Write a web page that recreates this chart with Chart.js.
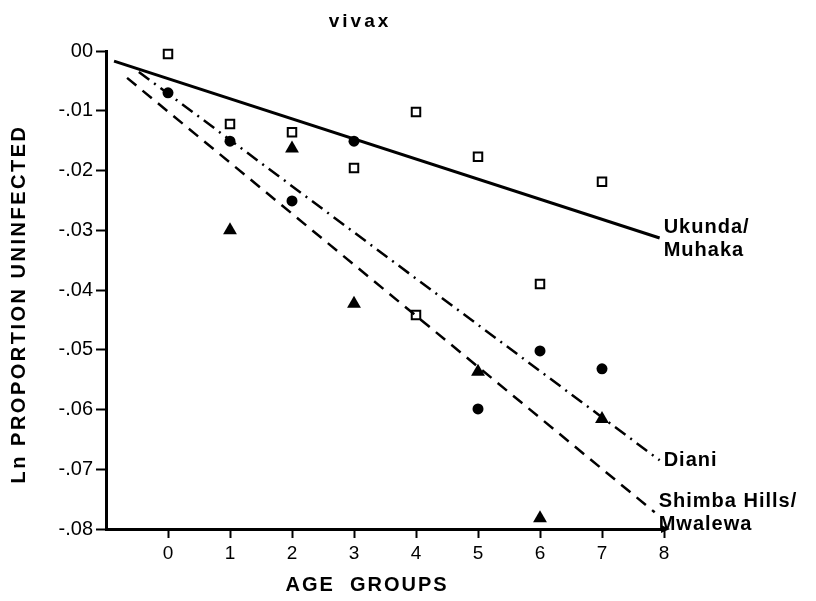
<!DOCTYPE html>
<html>
<head>
<meta charset="utf-8">
<script src="https://cdn.jsdelivr.net/npm/chart.js@4.4.1/dist/chart.umd.min.js"></script>
<style>
    html, body { margin: 0; padding: 0; background: #fff; }
    #wrap { width: 816px; height: 601px; }
</style>
</head>
<body>
<div id="wrap"><canvas id="chart" width="816" height="601"></canvas></div>
<script>
// values
const ukundaAges = [0, 1, 2, 3, 4, 4, 5, 6, 7];
const ukundaVals = [-0.0005, -0.0122, -0.0136, -0.0196, -0.0102, -0.0442, -0.0177, -0.0390, -0.0219];

const dianiAges = [0, 1, 2, 3, 5, 6, 7];
const dianiVals = [-0.0070, -0.0151, -0.0251, -0.0151, -0.0599, -0.0502, -0.0532];

const shimbaAges = [1, 2, 3, 5, 6, 7];
const shimbaVals = [-0.0300, -0.0163, -0.0423, -0.0537, -0.0782, -0.0616];

// fitted lines (start / end)
const ukundaFitX = [-0.87, 7.93];
const ukundaFitY = [-0.0017, -0.0313];
const dianiFitX = [-0.47, 7.93];
const dianiFitY = [-0.0035, -0.0685];
const shimbaFitX = [-0.66, 7.85];
const shimbaFitY = [-0.0045, -0.0772];

const xTicks = [0, 1, 2, 3, 4, 5, 6, 7, 8];
const yTicks = [0, -0.01, -0.02, -0.03, -0.04, -0.05, -0.06, -0.07, -0.08];

const lineLabels = [
    {lines: ['Ukunda/', 'Muhaka'], x: ukundaFitX, y: ukundaFitY},
    {lines: ['Diani'], x: dianiFitX, y: dianiFitY},
    {lines: ['Shimba Hills/', 'Mwalewa'], x: shimbaFitX, y: shimbaFitY}
];

function pts(xs, ys) {
    return xs.map((x, i) => ({x: x, y: ys[i]}));
}

const FONT = "'Liberation Sans', Arial, sans-serif";

// texts drawn by hand so they sit where the figure has them
const textPlugin = {
    id: 'texts',
    afterDraw(chart) {
        const ctx = chart.ctx;
        const xs = chart.scales.x, ys = chart.scales.y;
        const area = chart.chartArea;
        ctx.save();
        ctx.fillStyle = '#000';
        ctx.textBaseline = 'middle';

        ctx.letterSpacing = '3px';
        ctx.font = 'bold 19px ' + FONT;
        ctx.textAlign = 'center';
        ctx.fillText('vivax', 360, 22);

        ctx.letterSpacing = '2px';
        ctx.font = 'bold 20px ' + FONT;
        ctx.fillText('AGE  GROUPS', 367, 585);

        ctx.save();
        ctx.letterSpacing = '2.5px';
        ctx.translate(19, 304);
        ctx.rotate(-Math.PI / 2);
        ctx.fillText('Ln PROPORTION UNINFECTED', 0, 0);
        ctx.restore();

        ctx.letterSpacing = '1px';
        ctx.font = 'bold 20px ' + FONT;
        ctx.textAlign = 'left';
        lineLabels.forEach(l => {
            const px = xs.getPixelForValue(l.x[1]) + 4;
            const py = ys.getPixelForValue(l.y[1]);
            if (l.lines.length === 1) {
                ctx.fillText(l.lines[0], px, py);
            } else {
                ctx.fillText(l.lines[0], px, py - 11);
                ctx.fillText(l.lines[1], px, py + 12);
            }
        });

        // small arrow head at the end of the x axis
        const ax = xs.getPixelForValue(8);
        ctx.beginPath();
        ctx.moveTo(ax + 6, area.bottom);
        ctx.lineTo(ax - 3, area.bottom - 4);
        ctx.lineTo(ax - 3, area.bottom + 4);
        ctx.closePath();
        ctx.fill();
        ctx.restore();
    }
};

function veDoThi(id) {
    const data = {
        datasets: [{
                label: 'Ukunda/Muhaka',
                data: pts(ukundaFitX, ukundaFitY),
                showLine: true,
                borderColor: '#000',
                borderWidth: 3,
                pointRadius: 0
            }, {
                label: 'Diani',
                data: pts(dianiFitX, dianiFitY),
                showLine: true,
                borderColor: '#000',
                borderWidth: 2.5,
                borderDash: [13, 6, 2, 6],
                pointRadius: 0
            }, {
                label: 'Shimba Hills/Mwalewa',
                data: pts(shimbaFitX, shimbaFitY),
                showLine: true,
                borderColor: '#000',
                borderWidth: 2.5,
                borderDash: [12, 8],
                pointRadius: 0
            }, {
                label: 'Ukunda/Muhaka points',
                data: pts(ukundaAges, ukundaVals),
                pointStyle: 'rect',
                pointRadius: 6,
                pointBorderWidth: 2,
                pointBorderColor: '#000',
                pointBackgroundColor: '#fff',
                clip: false
            }, {
                label: 'Diani points',
                data: pts(dianiAges, dianiVals),
                pointStyle: 'circle',
                pointRadius: 5.5,
                pointBorderWidth: 0,
                pointBackgroundColor: '#000',
                clip: false
            }, {
                label: 'Shimba Hills/Mwalewa points',
                data: pts(shimbaAges, shimbaVals),
                pointStyle: 'triangle',
                pointRadius: 8,
                pointBorderWidth: 0,
                pointBackgroundColor: '#000',
                clip: false
            }]
    };

    const config = {
        type: 'scatter',
        data: data,
        options: {
            responsive: false,
            animation: false,
            events: [],
            layout: {padding: {top: 51, right: 152, bottom: 0, left: 0}},
            plugins: {
                legend: {display: false},
                tooltip: {enabled: false}
            },
            scales: {
                x: {
                    type: 'linear',
                    min: -1,
                    max: 8,
                    afterFit: s => { s.height = 72; },
                    afterBuildTicks: s => { s.ticks = [{value: -1}].concat(xTicks.map(v => ({value: v}))); },
                    border: {display: true, color: '#000', width: 3},
                    grid: {
                        drawOnChartArea: false,
                        drawTicks: true,
                        tickLength: 9,
                        tickWidth: 2,
                        tickColor: c => (c.tick && c.tick.value === -1) ? 'rgba(0,0,0,0)' : '#000'
                    },
                    ticks: {
                        color: '#000',
                        padding: 4,
                        font: {family: FONT, size: 19},
                        callback: v => v === -1 ? '' : String(v)
                    }
                },
                y: {
                    type: 'linear',
                    min: -0.08,
                    max: 0,
                    afterFit: s => { s.width = 106; },
                    afterBuildTicks: s => { s.ticks = yTicks.map(v => ({value: v})); },
                    border: {display: true, color: '#000', width: 3},
                    grid: {
                        drawOnChartArea: false,
                        drawTicks: true,
                        tickLength: 10,
                        tickWidth: 2,
                        tickColor: '#000'
                    },
                    ticks: {
                        color: '#000',
                        padding: 3,
                        font: {family: FONT, size: 20},
                        callback: v => v === 0 ? '00' : '-.' + String(Math.round(-v * 100)).padStart(2, '0')
                    }
                }
            }
        },
        plugins: [textPlugin]
    };

    let ctx = document.getElementById(id).getContext("2d")

    new Chart(ctx, config)
}

veDoThi('chart');
</script>
</body>
</html>
